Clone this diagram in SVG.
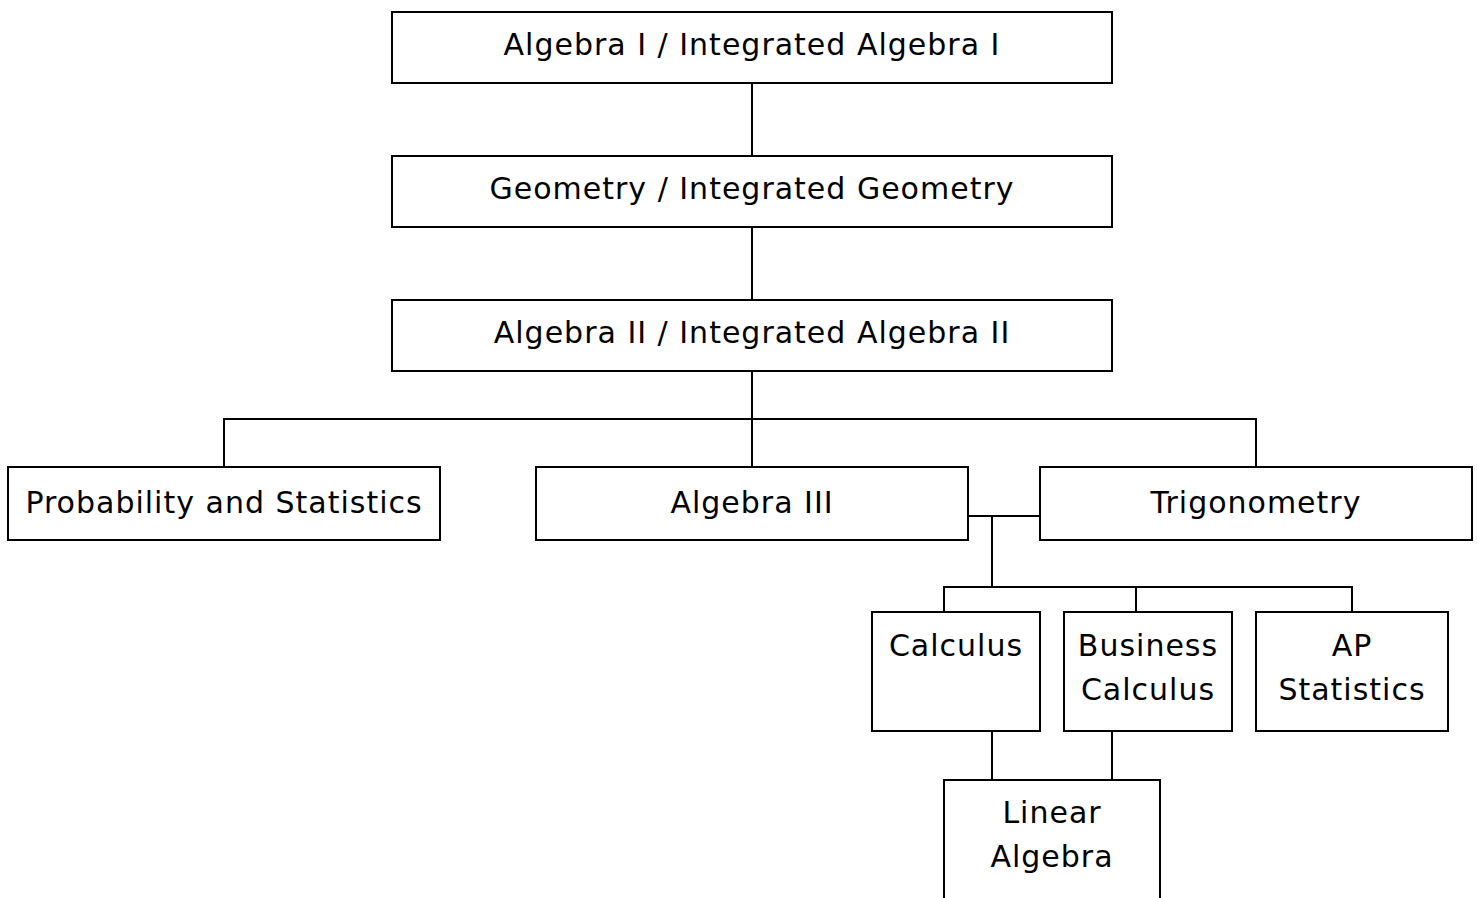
<svg xmlns="http://www.w3.org/2000/svg" width="1477" height="898" viewBox="0 0 1477 898">
<style>
.box{fill:#fff;stroke:#000;stroke-width:2}
.c{fill:none;stroke:#000;stroke-width:2}
text{font-family:"DejaVu Sans","Noto Sans",sans-serif;font-size:30px;letter-spacing:1px;fill:#000;text-anchor:middle}
</style>
<rect width="1477" height="898" fill="#fff"/>
<g id="connectors">
<line class="c" x1="752" y1="83" x2="752" y2="156"/>
<line class="c" x1="752" y1="227" x2="752" y2="300"/>
<line class="c" x1="752" y1="371" x2="752" y2="467"/>
<polyline class="c" points="224,467 224,419 1256,419 1256,467"/>
<line class="c" x1="968" y1="516" x2="1040" y2="516"/>
<line class="c" x1="992" y1="516" x2="992" y2="587"/>
<polyline class="c" points="944,612 944,587 1352,587 1352,612"/>
<line class="c" x1="1136" y1="587" x2="1136" y2="612"/>
<line class="c" x1="992" y1="731" x2="992" y2="780"/>
<line class="c" x1="1112" y1="731" x2="1112" y2="780"/>
</g>
<g id="n1"><rect class="box" x="392" y="12" width="720" height="71"/><text x="752" y="55">Algebra I / Integrated Algebra I</text></g>
<g id="n2"><rect class="box" x="392" y="156" width="720" height="71"/><text x="752" y="199">Geometry / Integrated Geometry</text></g>
<g id="n3"><rect class="box" x="392" y="300" width="720" height="71"/><text x="752" y="343">Algebra II / Integrated Algebra II</text></g>
<g id="n4"><rect class="box" x="8" y="467" width="432" height="73"/><text x="224" y="513">Probability and Statistics</text></g>
<g id="n5"><rect class="box" x="536" y="467" width="432" height="73"/><text x="752" y="513">Algebra III</text></g>
<g id="n6"><rect class="box" x="1040" y="467" width="432" height="73"/><text x="1256" y="513">Trigonometry</text></g>
<g id="n7"><rect class="box" x="872" y="612" width="168" height="119"/><text x="956" y="656">Calculus</text></g>
<g id="n8"><rect class="box" x="1064" y="612" width="168" height="119"/><text x="1148" y="656">Business</text><text x="1148" y="700">Calculus</text></g>
<g id="n9"><rect class="box" x="1256" y="612" width="192" height="119"/><text x="1352" y="656">AP</text><text x="1352" y="700">Statistics</text></g>
<g id="n10"><rect class="box" x="944" y="780" width="216" height="130"/><text x="1052" y="823">Linear</text><text x="1052" y="867">Algebra</text></g>
</svg>
